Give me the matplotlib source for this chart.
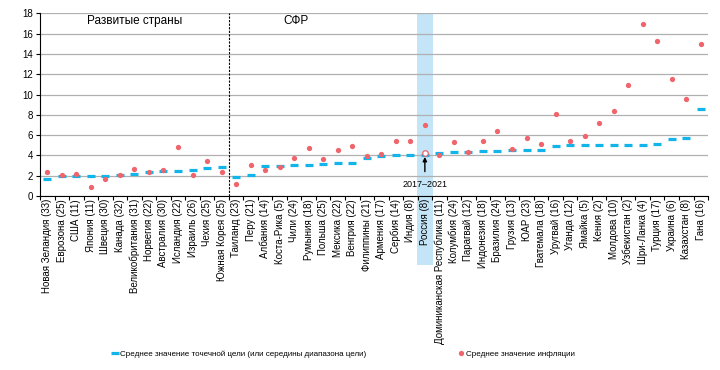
import matplotlib.pyplot as plt
from matplotlib.lines import Line2D
from matplotlib.patches import Rectangle
import matplotlib.transforms as mtransforms

plt.rcParams['font.family'] = ['Liberation Sans', 'DejaVu Sans']

countries = ['Новая Зеландия (33)', 'Еврозона (25)', 'США (11)', 'Япония (11)', 'Швеция (30)',
             'Канада (32)', 'Великобритания (31)', 'Норвегия (22)', 'Австралия (30)',
             'Исландия (22)', 'Израиль (26)', 'Чехия (25)', 'Южная Корея (25)',
             'Таиланд (23)', 'Перу (21)', 'Албания (14)', 'Коста-Рика (5)', 'Чили (24)',
             'Румыния (18)', 'Польша (25)', 'Мексика (22)', 'Венгрия (22)', 'Филиппины (21)',
             'Армения (17)', 'Сербия (14)', 'Индия (8)', 'Россия (8)',
             'Доминиканская Республика (11)', 'Колумбия (24)', 'Парагвай (12)',
             'Индонезия (18)', 'Бразилия (24)', 'Грузия (13)', 'ЮАР (23)', 'Гватемала (18)',
             'Уругвай (16)', 'Уганда (12)', 'Ямайка (5)', 'Кения (2)', 'Молдова (10)',
             'Узбекистан (2)', 'Шри-Ланка (4)', 'Турция (17)', 'Украина (6)',
             'Казахстан (8)', 'Гана (16)']

target = [1.7, 2.0, 2.0, 2.0, 2.0, 2.1, 2.2, 2.35, 2.5, 2.5, 2.55, 2.75, 2.9,
          1.9, 2.1, 3.0, 3.0, 3.02, 3.08, 3.15, 3.22, 3.28, 3.8, 3.97, 4.0, 4.0, 4.0,
          4.27, 4.33, 4.37, 4.43, 4.47, 4.5, 4.5, 4.5, 4.96, 5.0, 5.0, 5.0, 5.0,
          5.0, 5.0, 5.12, 5.58, 5.71, 8.54]

inflation = [2.33, 2.07, 2.13, 0.92, 1.67, 2.07, 2.63, 2.33, 2.56, 4.83, 2.04, 3.42, 2.4,
             1.21, 3.05, 2.56, 2.86, 3.71, 4.7, 3.68, 4.53, 4.9, 3.91, 4.17, 5.39, 5.39, 7.03,
             4.0, 5.32, 4.37, 5.45, 6.37, 4.63, 5.71, 5.09, 8.05, 5.45, 5.91, 7.16, 8.37,
             10.97, 16.92, 15.27, 11.5, 9.59, 15.0]

russia_idx = 26
russia_recent = 4.2  # 2017-2021

blue = '#12b5ea'
red = '#f0646c'

fig = plt.figure(figsize=(7.2, 3.7), dpi=100)
ax = fig.add_axes([0.0556, 0.47, 0.9278, 0.494])

x = list(range(len(countries)))
ax.plot(x, target, linestyle='none', marker='_', markersize=6, markeredgewidth=2.3,
        color=blue, zorder=3)
ax.plot(x, inflation, linestyle='none', marker='o', markersize=3.8, color=red,
        markeredgewidth=0, zorder=4)
ax.plot([russia_idx], [russia_recent], linestyle='none', marker='o', markersize=4,
        markerfacecolor='white', markeredgecolor=red, markeredgewidth=0.9, zorder=5)

# highlighted Russia column, extends over its tick label
trans = mtransforms.blended_transform_factory(ax.transData, ax.transAxes)
ax.add_patch(Rectangle((russia_idx - 0.53, -0.377), 1.06, 1.377, transform=trans,
                       facecolor='#c4e5f7', edgecolor='none', clip_on=False, zorder=0.2))

ax.axvline(12.5, color='black', linestyle=(0, (2, 1.2)), linewidth=0.8, zorder=2)

ax.annotate('2017–2021', xy=(russia_idx, russia_recent), xytext=(russia_idx, 1.15),
            ha='center', va='center', fontsize=6.5,
            arrowprops=dict(arrowstyle='-|>', color='black', lw=1.0,
                            shrinkA=4, shrinkB=2.5, mutation_scale=6), zorder=6)

ax.text(6, 17.2, 'Развитые страны', ha='center', va='center', fontsize=8.5)
ax.text(17.1, 17.2, 'СФР', ha='center', va='center', fontsize=8.5)

ax.set_xlim(-0.5, len(countries) - 0.5)
ax.set_ylim(0, 18)
ax.set_yticks(range(0, 19, 2))
ax.tick_params(axis='y', labelsize=7, length=3, width=0.8, pad=2)
ax.set_xticks(x)
ax.set_xticklabels(countries, rotation=90, fontsize=7)
ax.set_xticks([i + 0.5 for i in range(-1, len(countries))], minor=True)
ax.tick_params(axis='x', which='major', length=0, pad=2)
ax.tick_params(axis='x', which='minor', length=3, width=0.8)

ax.grid(axis='y', color='#b0b0b0', linewidth=0.9)
ax.set_axisbelow(True)
for s in ['top', 'right']:
    ax.spines[s].set_visible(False)
ax.spines['left'].set_linewidth(0.8)
ax.spines['bottom'].set_linewidth(0.8)

handles = [Line2D([], [], linestyle='none', marker='_', markersize=6, markeredgewidth=2.3, color=blue),
           Line2D([], [], linestyle='none', marker='o', markersize=3.8, markeredgewidth=0, color=red)]
fig.legend(handles, ['Среднее значение точечной цели (или середины диапазона цели)',
                     'Среднее значение инфляции'],
           loc='center left', bbox_to_anchor=(0.1464, 0.043), ncol=2, frameon=False,
           fontsize=5.8, handlelength=0.6, handletextpad=0.3, columnspacing=11.5)

fig.savefig('out.png', dpi=100)
